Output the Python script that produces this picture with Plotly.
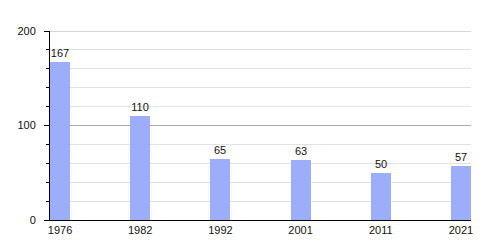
import plotly.graph_objects as go

years = ["1976", "1982", "1992", "2001", "2011", "2021"]
population = [167, 110, 65, 63, 50, 57]
y_ticks = [0, 100, 200]

fig = go.Figure(go.Bar(
    x=years, y=population,
    width=0.25,
    marker=dict(color="#9cadfa", line=dict(width=0)),
    text=[str(v) for v in population],
    textposition="outside",
    textfont=dict(size=11, color="#111", family="Liberation Sans, Arial, sans-serif"),
    cliponaxis=False,
))

fig.update_layout(
    width=500, height=250,
    margin=dict(l=50, r=29, t=31, b=30),
    paper_bgcolor="white", plot_bgcolor="white",
    showlegend=False,
    font=dict(family="Liberation Sans, Arial, sans-serif", size=11, color="#111"),
    bargap=0,
)
fig.update_xaxes(
    type="category",
    range=[-0.125, 5.125],
    showline=True, linecolor="black", linewidth=1,
    ticks="", showgrid=False,
    tickfont=dict(size=11),
)
fig.update_yaxes(
    range=[0, 200],
    tickvals=y_ticks,
    showline=True, linecolor="black", linewidth=1,
    ticks="outside", ticklen=5, tickcolor="black",
    showgrid=True, gridcolor="#aaaaaa", gridwidth=1,
    zeroline=False,
    minor=dict(dtick=20, ticks="outside", ticklen=3, tickcolor="black",
               showgrid=True, gridcolor="#e2e2e2", gridwidth=1),
    tickfont=dict(size=11),
    ticklabelstandoff=6,
)
# top major gridline (plotly omits the gridline at the range edge)
fig.add_shape(type="line", xref="paper", yref="y", x0=0, x1=1,
              y0=y_ticks[-1], y1=y_ticks[-1],
              line=dict(color="#aaaaaa", width=1), layer="below")

fig.write_html("out.html")
